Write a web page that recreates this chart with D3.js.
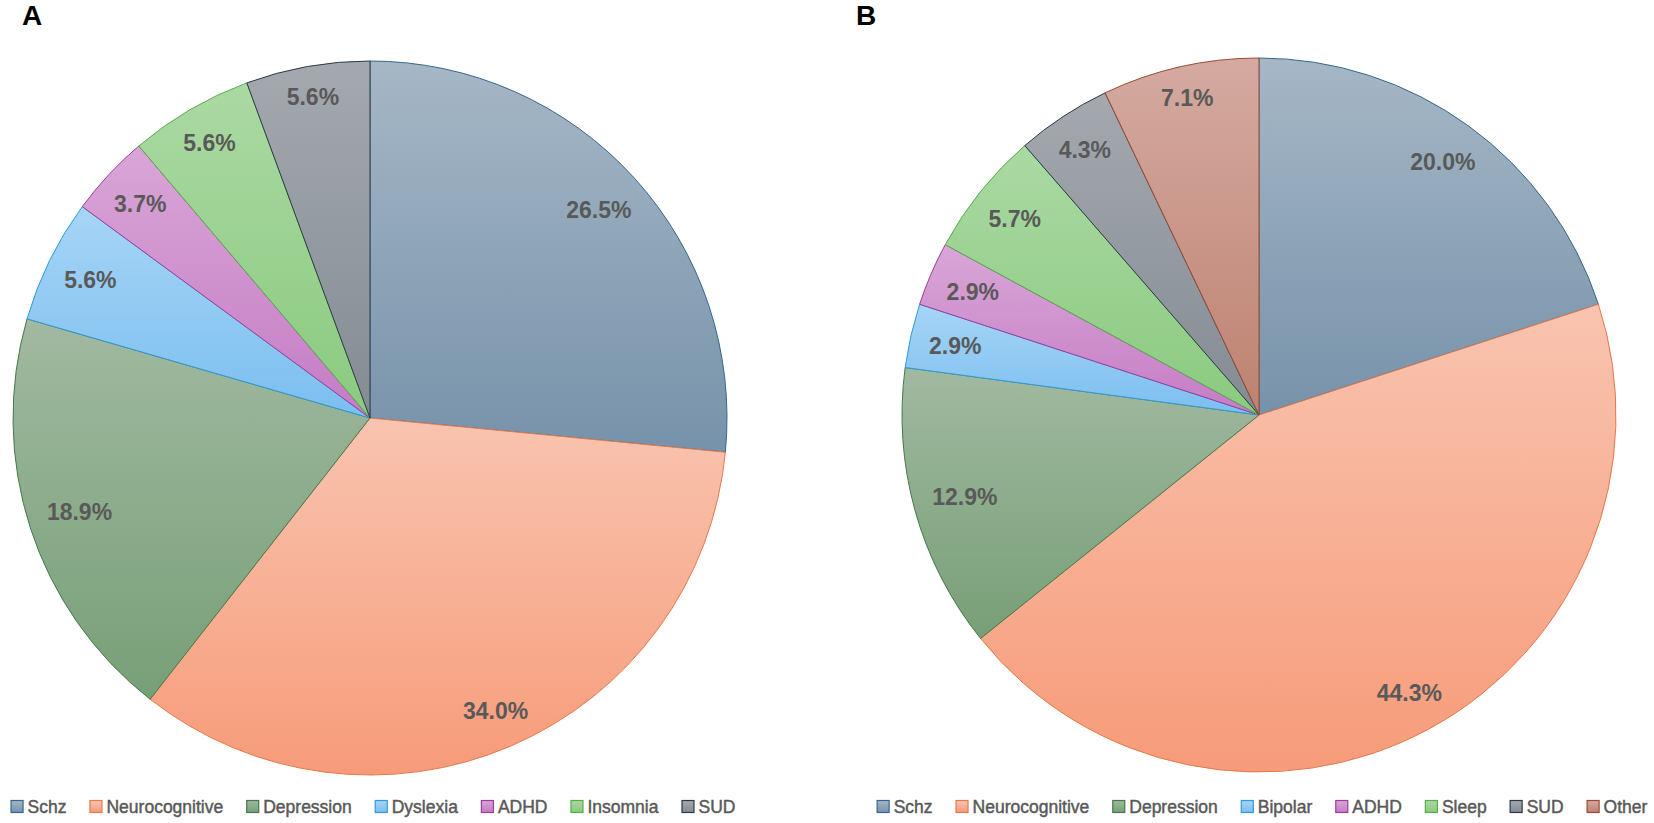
<!DOCTYPE html>
<html>

<head>
	<meta charset='utf-8'>
	<style>
		body { margin: 0; background: #fff; }
		svg { display: block; }
	</style>
</head>

<body>
	<svg></svg>
	<script src="https://d3js.org/d3.v7.min.js"></script>
	<script>
		// panel A
		var catsA = ['Schz', 'Neurocognitive', 'Depression', 'Dyslexia', 'ADHD', 'Insomnia', 'SUD'];
		var valsA = [26.5, 34.0, 18.9, 5.6, 3.7, 5.6, 5.6];
		// panel B
		var catsB = ['Schz', 'Neurocognitive', 'Depression', 'Bipolar', 'ADHD', 'Sleep', 'SUD', 'Other'];
		var valsB = [20.0, 44.3, 12.9, 2.9, 2.9, 5.7, 4.3, 7.1];

		// light (top) / dark (bottom) / outline per category
		var palette = {
			'Schz':           ['#a6b7c6', '#7692aa', '#35678c'],
			'Neurocognitive': ['#f9c4b0', '#f79b79', '#e27a4e'],
			'Depression':     ['#a1b9a1', '#779f77', '#46784a'],
			'Dyslexia':       ['#a6d5f6', '#7bbef0', '#2f9bd6'],
			'Bipolar':        ['#a6d5f6', '#7bbef0', '#2f9bd6'],
			'ADHD':           ['#d9a6d7', '#c57cc5', '#9a3e9a'],
			'Insomnia':       ['#abd9a3', '#8aca7f', '#58ad4a'],
			'Sleep':          ['#abd9a3', '#8aca7f', '#58ad4a'],
			'SUD':            ['#a4a9af', '#848b93', '#2d3a44'],
			'Other':          ['#d5aaa1', '#be8270', '#9a4b35']
		};

		var W = 1654, H = 823, R = 357;
		var svg = d3.select('svg').attr('width', W).attr('height', H);
		var defs = svg.append('defs');

		Object.keys(palette).forEach(function (k) {
			var g = defs.append('linearGradient').attr('id', 'grad-' + k)
				.attr('x1', 0).attr('y1', 0).attr('x2', 0).attr('y2', 1);
			g.append('stop').attr('offset', '0%').attr('stop-color', palette[k][0]);
			g.append('stop').attr('offset', '100%').attr('stop-color', palette[k][1]);
		});

		function drawPie(cats, vals, cx, cy, letter, lx) {
			var data = cats.map(function (c, i) { return { cat: c, val: vals[i] }; });
			var pie = d3.pie().sort(null).value(function (d) { return d.val; });
			var arc = d3.arc().innerRadius(0).outerRadius(R);
			var g = svg.append('g').attr('transform', 'translate(' + cx + ',' + cy + ')');
			var arcs = pie(data);

			g.selectAll('path').data(arcs).enter().append('path')
				.attr('d', arc)
				.attr('fill', function (d) { return 'url(#grad-' + d.data.cat + ')'; })
				.attr('stroke', function (d) { return palette[d.data.cat][2]; })
				.attr('stroke-width', 1)
				.attr('stroke-linejoin', 'round');

			// percentage labels, pushed toward the inside end
			g.selectAll('text.lbl').data(arcs).enter().append('text')
				.attr('class', 'lbl')
				.attr('text-anchor', 'middle')
				.attr('dy', '0.35em')
				.style('font-family', '"Liberation Sans", Arial, sans-serif')
				.style('font-weight', 'bold')
				.style('font-size', '23px')
				.attr('fill', '#595959')
				.text(function (d) { return d.data.val.toFixed(1) + '%'; })
				.each(function (d) {
					var w = this.getComputedTextLength(), h = 17;
					var a = (d.startAngle + d.endAngle) / 2;
					var s = Math.sin(a), c = Math.cos(a);
					var r = R - 18 - (Math.abs(c) * h / 2 + Math.abs(s) * w / 2);
					d3.select(this).attr('x', s * r).attr('y', -c * r);
				});

			svg.append('text').attr('x', lx).attr('y', 25)
				.style('font-family', '"Liberation Sans", Arial, sans-serif')
				.style('font-weight', 'bold').style('font-size', '28px')
				.attr('fill', '#000').text(letter);

			// legend, centred under the pie
			var leg = svg.append('g');
			var x = 0, sq = 11;
			cats.forEach(function (c) {
				var it = leg.append('g').attr('transform', 'translate(' + x + ',0)');
				it.append('rect').attr('x', 0.5).attr('y', 800.5).attr('width', sq + 1).attr('height', sq + 1)
					.attr('fill', 'url(#grad-' + c + ')').attr('stroke', palette[c][2]).attr('stroke-width', 1.2);
				var t = it.append('text').attr('x', sq + 6).attr('y', 813)
					.style('font-family', '"Liberation Sans", Arial, sans-serif')
					.style('font-size', '17.5px').attr('fill', '#595959')
					.attr('stroke', '#595959').attr('stroke-width', 0.45).text(c);
				x += sq + 6 + t.node().getComputedTextLength() + 23;
			});
			var total = x - 23;
			leg.attr('transform', 'translate(' + (cx - total / 2 + 3) + ',0)');
		}

		drawPie(catsA, valsA, 370, 418, 'A', 22);
		drawPie(catsB, valsB, 1259, 415, 'B', 856);
	</script>
</body>

</html>
